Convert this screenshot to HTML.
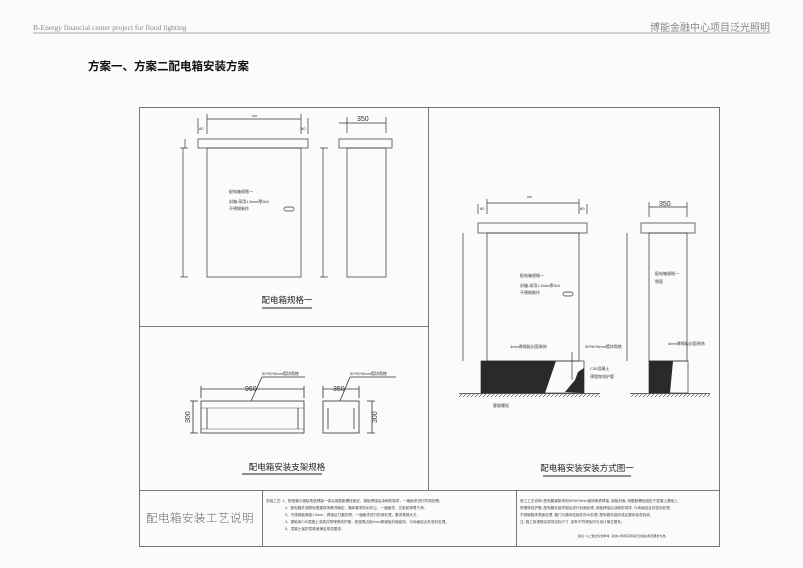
<!DOCTYPE html>
<html><head><meta charset="utf-8"><style>
body{margin:0;width:803px;height:568px;background:#fbfbfb;overflow:hidden;font-family:"Liberation Sans","Noto Sans CJK SC",sans-serif}
svg{position:absolute;left:0;top:0}
</style></head><body>
<svg width="803" height="568" viewBox="0 0 803 568" xmlns="http://www.w3.org/2000/svg">
<defs>
<pattern id="h" width="4" height="4" patternUnits="userSpaceOnUse"><path d="M0 4L4 0" stroke="#333" stroke-width="0.6"/></pattern>
</defs>
<text x="33" y="30" font-family="Liberation Serif,serif" font-size="7.5" fill="#888">B-Energy  financial center project for flood lighting</text>
<text x="770" y="31" text-anchor="end" font-family="Liberation Sans,'Noto Sans CJK SC',sans-serif" font-size="10" fill="#888">博能金融中心项目泛光照明</text>
<line x1="33" y1="33" x2="770" y2="33" stroke="#aaa" stroke-width="1"/>
<text x="88" y="70" font-size="11.5" font-weight="bold" fill="#111">方案一、方案二配电箱安装方案</text>

<g fill="none" stroke="#555" stroke-width="0.8">
<rect x="139.5" y="107.5" width="580" height="439"/>
<line x1="428.5" y1="107" x2="428.5" y2="490"/>
<line x1="139" y1="326.5" x2="428.5" y2="326.5"/>
<line x1="139" y1="490.5" x2="720" y2="490.5"/>
<line x1="262.5" y1="490" x2="262.5" y2="546"/>
<line x1="516.5" y1="490" x2="516.5" y2="546"/>
</g>

<!-- panel 1 -->
<g fill="none" stroke="#333" stroke-width="0.7">
<rect x="198" y="139" width="110" height="9"/>
<rect x="207" y="148" width="94" height="129"/>
<rect x="339" y="139" width="53" height="9"/>
<rect x="347" y="148" width="39" height="129"/>
<line x1="207" y1="119" x2="301" y2="119"/>
<line x1="198" y1="118" x2="198" y2="134"/><line x1="207" y1="114" x2="207" y2="134"/><line x1="301" y1="114" x2="301" y2="134"/><line x1="308" y1="118" x2="308" y2="134"/>
<line x1="339" y1="123" x2="386" y2="123"/><line x1="347" y1="117" x2="347" y2="133"/><line x1="386" y1="117" x2="386" y2="133"/>
<line x1="183" y1="148" x2="183" y2="277"/><line x1="180" y1="277" x2="188" y2="277"/><line x1="180" y1="148" x2="188" y2="148"/>
<line x1="185" y1="139" x2="185" y2="148"/>
<line x1="323" y1="148" x2="323" y2="277"/><line x1="320" y1="277" x2="328" y2="277"/><line x1="320" y1="148" x2="328" y2="148"/>
<rect x="284" y="207" width="10" height="4" rx="2"/>
</g>
<g font-size="4" fill="#333">
<text x="252" y="117" font-size="3">600</text>
<text x="199" y="130" font-size="4">80</text><text x="301" y="130" font-size="4">80</text>
<text x="357" y="121" font-size="7">350</text>
<text x="229" y="193" font-size="4">配电箱规格一</text>
<text x="229" y="203">封箱:采用1.5mm厚304</text>
<text x="229" y="210">不锈钢制作</text>
</g>
<text x="287" y="303" text-anchor="middle" font-size="8.5" fill="#222">配电箱规格一</text>
<line x1="262" y1="308" x2="312" y2="308" stroke="#222" stroke-width="1"/>

<!-- panel 2 -->
<g fill="none" stroke="#333" stroke-width="0.8">
<rect x="201" y="401" width="103" height="32"/>
<line x1="207" y1="408" x2="207" y2="429"/><line x1="298" y1="408" x2="298" y2="429"/>
<line x1="201" y1="408" x2="304" y2="408" stroke-width="0.4"/><line x1="201" y1="429" x2="304" y2="429" stroke-width="0.4"/>
<rect x="323" y="401" width="36" height="32"/>
<line x1="328" y1="408" x2="328" y2="429"/><line x1="354" y1="408" x2="354" y2="429"/>
<line x1="201" y1="389" x2="304" y2="389"/><line x1="201" y1="386" x2="201" y2="398"/><line x1="304" y1="386" x2="304" y2="398"/>
<line x1="323" y1="389" x2="359" y2="389"/><line x1="323" y1="386" x2="323" y2="398"/><line x1="359" y1="386" x2="359" y2="398"/>
<line x1="193" y1="401" x2="193" y2="433"/><line x1="190" y1="401" x2="198" y2="401"/><line x1="190" y1="433" x2="198" y2="433"/>
<line x1="372" y1="401" x2="372" y2="433"/><line x1="367" y1="401" x2="375" y2="401"/><line x1="367" y1="433" x2="375" y2="433"/>
<line x1="251" y1="401" x2="262" y2="377"/><line x1="262" y1="377" x2="305" y2="377"/>
<line x1="340" y1="401" x2="350" y2="377"/><line x1="350" y1="377" x2="396" y2="377"/>
</g>
<g fill="#333">
<text x="262" y="375" font-size="4">50*50*6mm镀锌角铁</text>
<text x="350" y="375" font-size="4">50*50*6mm镀锌角铁</text>
<text x="245" y="391" font-size="7">960</text>
<text x="333" y="391" font-size="7">350</text>
<text x="190" y="423" font-size="7" transform="rotate(-90 190 423)">300</text>
<text x="377" y="423" font-size="7" transform="rotate(-90 377 423)">300</text>
</g>
<text x="287" y="470" text-anchor="middle" font-size="8.5" fill="#222">配电箱安装支架规格</text>
<line x1="242" y1="474" x2="322" y2="474" stroke="#222" stroke-width="1"/>

<!-- panel 3 -->
<g fill="none" stroke="#333" stroke-width="0.7">
<rect x="478" y="223" width="109" height="10"/>
<rect x="487" y="233" width="92" height="128"/>
<rect x="641" y="223" width="54" height="10"/>
<rect x="649" y="233" width="38" height="128"/>
<line x1="487" y1="203" x2="579" y2="203"/><line x1="478" y1="204" x2="478" y2="214"/><line x1="487" y1="199" x2="487" y2="214"/><line x1="579" y1="199" x2="579" y2="214"/><line x1="587" y1="204" x2="587" y2="214"/>
<line x1="649" y1="207" x2="687" y2="207"/><line x1="649" y1="202" x2="649" y2="217"/><line x1="687" y1="202" x2="687" y2="217"/>
<line x1="463" y1="233" x2="463" y2="361"/><line x1="627" y1="233" x2="627" y2="361"/>
<rect x="563" y="292" width="10" height="4" rx="2"/>
<rect x="481" y="361" width="103" height="32"/>
<rect x="649" y="361" width="39" height="32"/>
<line x1="459" y1="393.5" x2="600" y2="393.5"/>
<line x1="630" y1="393.5" x2="710" y2="393.5"/>
<line x1="572" y1="352" x2="572" y2="380"/>
</g>
<path d="M481 361H556L545 393H481Z" fill="#2a2a2a"/>
<path d="M565 392L575 380L578 372L584 368V393Z" fill="#2a2a2a"/>
<path d="M649 361H673L670 393H649Z" fill="#2a2a2a"/>
<rect x="459" y="394" width="141" height="3" fill="url(#h)"/>
<rect x="630" y="394" width="80" height="3" fill="url(#h)"/>
<g fill="#333" font-size="4">
<text x="527" y="198" font-size="3">900</text>
<text x="480" y="210">80</text><text x="580" y="210">80</text>
<text x="659" y="206" font-size="7">350</text>
<text x="520" y="277">配电箱规格一</text>
<text x="520" y="287">封箱:采用1.5mm厚304</text>
<text x="520" y="294">不锈钢制作</text>
<text x="655" y="275">配电箱规格一</text>
<text x="655" y="283">侧面</text>
<text x="510" y="348">4mm厚钢板封面装饰</text>
<text x="585" y="348">50*50*6mm镀锌角铁</text>
<text x="590" y="370">C30混凝土</text>
<text x="590" y="378">预埋穿线护管</text>
<text x="493" y="407">膨胀螺栓</text>
<text x="668" y="345">4mm厚钢板封面装饰</text>
</g>
<text x="587" y="471" text-anchor="middle" font-size="8.5" fill="#222">配电箱安装安装方式图一</text>
<line x1="543" y1="476" x2="631" y2="476" stroke="#222" stroke-width="1"/>

<!-- bottom -->
<text x="200" y="522" text-anchor="middle" font-family="'Noto Sans CJK SC',sans-serif" font-weight="300" font-size="11.5" letter-spacing="0.5" fill="#666">配电箱安装工艺说明</text>
<g fill="#444" font-size="3.6">
<text x="266" y="502">安装工艺: 1、配电箱与钢板角铁焊接一体后用膨胀螺栓固定，钢板焊接后涂刷防锈漆，一遍面漆进行防锈处理。</text>
<text x="285" y="509">2、配电箱外观颜色根据现场情况确定，箱体要求防水防尘，一遍面漆，交验前清理干净。</text>
<text x="285" y="516">3、不锈钢板厚度1.5mm，焊接后打磨处理，一遍面漆进行防锈处理，要求美观大方。</text>
<text x="285" y="523">4、基础用C30混凝土浇筑并预埋穿线护管，底座周边用4mm厚钢板封面装饰，与地面结合处密封处理。</text>
<text x="285" y="530">5、混凝土保护层厚度满足规范要求。</text>
<text x="520" y="502">施工工艺说明: 配电箱钢架采用50*50*6mm镀锌角铁焊接, 钢板封面, 用膨胀螺栓固定于混凝土基础上,</text>
<text x="520" y="509">预埋穿线护管, 配电箱安装牢固后进行封面处理, 钢板焊接后涂刷防锈漆, 与地面结合处密封处理,</text>
<text x="520" y="516">不锈钢箱体表面处理, 箱门与箱体连接处防水处理, 配电箱安装完成后整体检查验收。</text>
<text x="520" y="523">注: 施工前请核实现场实际尺寸, 如有不符请及时与设计单位联系。</text>
<text x="578" y="537" font-size="3">备注: 以上做法仅供参考, 具体以现场实际情况及相关规范要求为准。</text>
</g>
</svg>
</body></html>
